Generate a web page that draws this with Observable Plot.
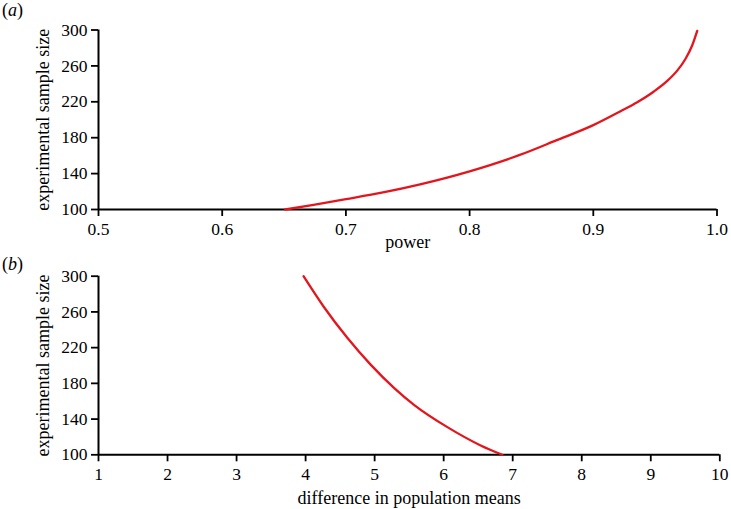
<!DOCTYPE html>
<html>
<head>
<meta charset="utf-8">
<script src="https://cdn.jsdelivr.net/npm/d3@7"></script>
<script src="https://cdn.jsdelivr.net/npm/@observablehq/plot@0.6"></script>
<style>
  html, body { margin: 0; padding: 0; background: #fff; }
  #wrap { position: relative; width: 731px; height: 509px; font-family: "Liberation Serif", "Times New Roman", serif; }
  .panel-label { position: absolute; left: 2px; font-size: 18px; font-family: "Liberation Serif", serif; color: #000; }
  svg { display: block; }
</style>
</head>
<body>
<div id="wrap">
  <div id="a"></div>
  <div id="b"></div>
  <div class="panel-label" style="top:0px;">(<i>a</i>)</div>
  <div class="panel-label" style="top:254px;">(<i>b</i>)</div>
</div>
<script>
// Panel (a): power vs experimental sample size
const powerValues = [0.651, 0.675, 0.70, 0.73, 0.76, 0.80, 0.84, 0.87, 0.90, 0.922, 0.9355, 0.949, 0.96, 0.968, 0.9746, 0.98, 0.984];
const sampleSizeA = [100, 105.5, 111.5, 119, 128, 142.5, 160.5, 177, 194, 209.5, 219.5, 231.5, 243.5, 255, 268, 283, 299];

// Panel (b): difference in population means vs experimental sample size
const meanDiff = [3.97, 4.265, 4.604, 4.942, 5.28, 5.57, 6.054, 6.536, 6.85];
const sampleSizeB = [300, 265.5, 231, 201, 175, 156, 131, 110.5, 100];

const xTicksA = [0.5, 0.6, 0.7, 0.8, 0.9, 1.0];
const xTicksB = [1, 2, 3, 4, 5, 6, 7, 8, 9, 10];
const yTicks = [100, 140, 180, 220, 260, 300];

const yLabel = "experimental sample size";
const xLabelA = "power";
const xLabelB = "difference in population means";

const dataA = powerValues.map((p, i) => ({x: p, y: sampleSizeA[i]}));
const dataB = meanDiff.map((d, i) => ({x: d, y: sampleSizeB[i]}));

const font = "Liberation Serif";
const red = "#e3161e";

function panel({data, xDomain, xTicks, xFormat, xLabel, height, mt, mb, mr, labelDy}) {
  return Plot.plot({
    width: 731,
    height,
    marginLeft: 98,
    marginRight: mr,
    marginTop: mt,
    marginBottom: mb,
    style: {fontFamily: font, background: "white", color: "black", overflow: "visible"},
    x: {domain: xDomain},
    y: {domain: [100, 300]},
    marks: [
      Plot.axisX({ticks: xTicks, tickFormat: xFormat, tickSize: 7, tickPadding: 6, fontSize: 17.5, label: null, strokeWidth: 1.8}),
      Plot.axisY({ticks: yTicks, tickSize: 7, tickPadding: 4, fontSize: 17.5, label: null, strokeWidth: 1.8}),
      Plot.ruleY([100], {stroke: "black", strokeWidth: 2}),
      Plot.ruleX([xDomain[0]], {stroke: "black", strokeWidth: 2}),
      Plot.line(data, {x: "x", y: "y", stroke: red, strokeWidth: 2.3, curve: "monotone-x"}),
      Plot.text([xLabel], {frameAnchor: "bottom", text: d => d, dy: labelDy, fontSize: 18, lineAnchor: "middle", textAnchor: "middle"}),
      Plot.text([yLabel], {frameAnchor: "left", text: d => d, dx: -55, rotate: -90, fontSize: 18, textAnchor: "middle", lineAnchor: "middle"})
    ]
  });
}

document.getElementById("a").appendChild(panel({
  data: dataA, xDomain: [0.5, 1.0], xTicks: xTicksA, xFormat: d3.format(".1f"), xLabel: xLabelA,
  height: 255, mt: 29.5, mb: 46, mr: 14.5, labelDy: 32.5
}));
document.getElementById("b").appendChild(panel({
  data: dataB, xDomain: [1, 10], xTicks: xTicksB, xFormat: d3.format("d"), xLabel: xLabelB,
  height: 254, mt: 20.7, mb: 54.7, mr: 11.7, labelDy: 43.5
}));
</script>
</body>
</html>
